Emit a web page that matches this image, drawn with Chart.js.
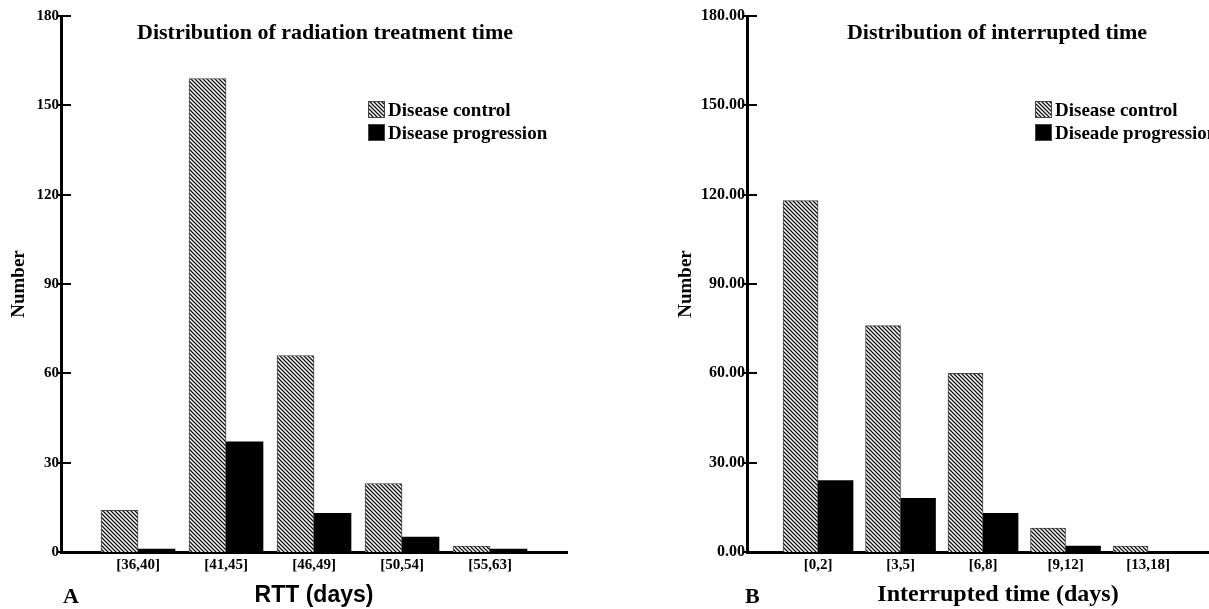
<!DOCTYPE html>
<html>
<head>
<meta charset="utf-8">
<script src="https://cdn.jsdelivr.net/npm/chart.js@4"></script>
<style>
  html, body { margin: 0; padding: 0; background: #fff; overflow: hidden; width: 1209px; height: 609px; }
  #chartA { position: absolute; left: 0; top: 0; }
  #chartB { position: absolute; left: 660px; top: 0; }
</style>
</head>
<body>
<canvas id="chartA" width="660" height="609"></canvas>
<canvas id="chartB" width="589" height="609"></canvas>
<script>
// panel A: radiation treatment time
const rttLabels = ['[36,40]', '[41,45]', '[46,49]', '[50,54]', '[55,63]'];
const rttControl = [14, 159, 66, 23, 2];
const rttProgression = [1, 37, 13, 5, 1];

// panel B: interrupted time
const intLabels = ['[0,2]', '[3,5]', '[6,8]', '[9,12]', '[13,18]'];
const intControl = [118, 76, 60, 8, 2];
const intProgression = [24, 18, 13, 2, 0];

const yTicks = [0, 30, 60, 90, 120, 150, 180];

const SERIF = '"Liberation Serif", "Times New Roman", serif';
const SANS = '"Liberation Sans", Arial, sans-serif';

function hatch(){
  const c = document.createElement('canvas');
  c.width = 4; c.height = 4;
  const g = c.getContext('2d');
  g.fillStyle = '#fff'; g.fillRect(0, 0, 4, 4);
  g.strokeStyle = '#111'; g.lineWidth = 1.3;
  g.beginPath();
  g.moveTo(-1, -1); g.lineTo(5, 5);
  g.moveTo(-1, 3); g.lineTo(1, 5);
  g.moveTo(3, -1); g.lineTo(5, 1);
  g.stroke();
  return g.createPattern(c, 'repeat');
}

// title, legend, panel letter and inward y ticks
const decor = {
  id: 'decor',
  afterDraw(chart){
    const o = chart.options.plugins.decor;
    const ctx = chart.ctx;
    const y = chart.scales.y;
    const axisX = chart.chartArea.left;
    ctx.save();
    ctx.strokeStyle = '#000'; ctx.lineWidth = 2;
    yTicks.forEach(v => {
      const py = Math.round(y.getPixelForValue(v));
      ctx.beginPath(); ctx.moveTo(axisX - 4, py); ctx.lineTo(axisX + 10, py); ctx.stroke();
    });
    ctx.fillStyle = '#000';
    ctx.textBaseline = 'middle';
    ctx.textAlign = 'center';
    ctx.font = 'bold 22px ' + SERIF;
    ctx.fillText(o.title, o.titleX, 33);
    ctx.textAlign = 'left';
    ctx.font = 'bold 22px ' + SERIF;
    ctx.fillText(o.letter, o.letterX, 597);
    ctx.font = 'bold 19px ' + SERIF;
    chart.data.datasets.forEach((ds, i) => {
      const by = 101 + i * 23;
      ctx.fillStyle = ds.backgroundColor;
      ctx.fillRect(o.legendX, by, 17, 17);
      ctx.strokeStyle = '#444'; ctx.lineWidth = 1;
      ctx.strokeRect(o.legendX + 0.5, by + 0.5, 16, 16);
      ctx.fillStyle = '#000';
      ctx.fillText(ds.label, o.legendX + 20, by + 10);
    });
    ctx.restore();
  }
};

function makeChart(id, cfg){
  const pattern = hatch();
  const points = arr => arr.map((v, i) => ({ x: i, y: v }));
  return new Chart(document.getElementById(id), {
    type: 'bar',
    data: {
      datasets: [
        { label: 'Disease control', data: points(cfg.control), backgroundColor: pattern, borderColor: '#444', borderWidth: 1, barThickness: cfg.barW },
        { label: cfg.progLabel, data: points(cfg.prog), backgroundColor: '#000', borderWidth: 0, barThickness: cfg.barW }
      ]
    },
    options: {
      responsive: false,
      animation: false,
      layout: { padding: { top: 16, right: cfg.padRight, bottom: 0, left: 0 } },
      plugins: {
        legend: { display: false },
        tooltip: { enabled: false },
        decor: cfg.decor
      },
      scales: {
        x: {
          type: 'linear',
          min: cfg.xMin, max: cfg.xMax,
          bounds: 'data', offset: false,
          grid: { display: false, drawTicks: false, offset: false },
          border: { display: true, color: '#000', width: 3 },
          afterBuildTicks: s => { s.ticks = cfg.labels.map((l, i) => ({ value: i })); },
          ticks: {
            autoSkip: false, maxRotation: 0,
            padding: 4, color: '#000',
            font: { family: SERIF, size: 15, weight: 'bold' },
            callback: v => cfg.labels[v] || ''
          },
          title: {
            display: true, text: cfg.xTitle, color: '#000',
            font: cfg.xTitleFont,
            padding: { top: 0, bottom: 0 }
          },
          afterFit: s => { s.height = 57; }
        },
        y: {
          min: 0, max: 180,
          grid: { display: false, drawTicks: false },
          border: { display: true, color: '#000', width: 3 },
          afterBuildTicks: s => { s.ticks = yTicks.map(v => ({ value: v })); },
          ticks: {
            padding: 2, color: '#000',
            font: { family: SERIF, size: cfg.yTickSize, weight: 'bold' },
            callback: cfg.yFormat
          },
          title: {
            display: true, text: 'Number', color: '#000',
            font: { family: SERIF, size: 19, weight: 'bold' },
            padding: { top: cfg.yTitlePad, bottom: 0 }
          },
          afterFit: s => { s.width = cfg.yWidth; }
        }
      }
    },
    plugins: [decor]
  });
}

makeChart('chartA', {
  labels: rttLabels, control: rttControl, prog: rttProgression,
  progLabel: 'Disease progression',
  barW: 37, xMin: -0.875, xMax: 4.875, padRight: 93, yWidth: 61, yTitlePad: 8, yTickSize: 15,
  xTitle: 'RTT (days)', xTitleFont: { family: SANS, size: 23, weight: 'bold' },
  yFormat: v => String(v),
  decor: { title: 'Distribution of radiation treatment time', titleX: 325, letter: 'A', letterX: 63, legendX: 368 }
});

makeChart('chartB', {
  labels: intLabels, control: intControl, prog: intProgression,
  progLabel: 'Diseade progression',
  barW: 35, xMin: -0.861, xMax: 5.224, padRight: 0, yWidth: 87, yTitlePad: 15, yTickSize: 16,
  xTitle: 'Interrupted time (days)', xTitleFont: { family: SERIF, size: 24, weight: 'bold' },
  yFormat: v => Number(v).toFixed(2),
  decor: { title: 'Distribution of interrupted time', titleX: 337, letter: 'B', letterX: 85, legendX: 375 }
});
</script>
</body>
</html>
